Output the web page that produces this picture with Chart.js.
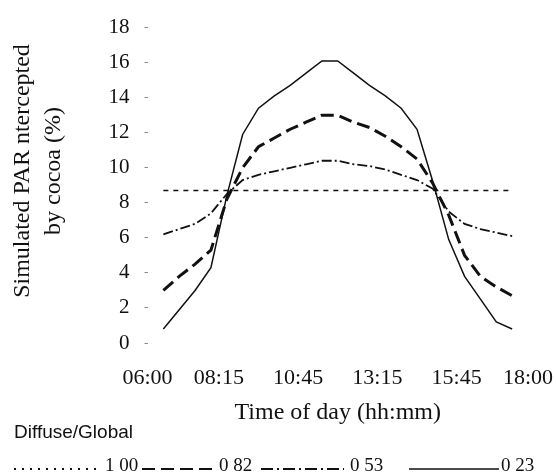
<!DOCTYPE html>
<html>
<head>
<meta charset="utf-8">
<script src="https://cdn.jsdelivr.net/npm/chart.js@4/dist/chart.umd.min.js"></script>
<style>
  html, body { margin: 0; padding: 0; background: #fff; }
  #wrap { width: 556px; height: 474px; position: relative; }
</style>
</head>
<body>
<div id="wrap"><canvas id="chart"></canvas></div>
<script>
// half-hourly simulation times (decimal hours)
const times = [6.5, 7, 7.5, 8, 8.5, 9, 9.5, 10, 10.5, 11, 11.5, 12, 12.5, 13, 13.5, 14, 14.5, 15, 15.5, 16, 16.5, 17, 17.5];

// intercepted PAR (%) for each diffuse/global ratio
const ratio100 = [8.7, 8.7, 8.7, 8.7, 8.7, 8.7, 8.7, 8.7, 8.7, 8.7, 8.7, 8.7, 8.7, 8.7, 8.7, 8.7, 8.7, 8.7, 8.7, 8.7, 8.7, 8.7, 8.7];
const ratio082 = [3.0, 3.8, 4.5, 5.3, 8.2, 10.0, 11.2, 11.7, 12.2, 12.6, 13.0, 13.0, 12.6, 12.3, 11.8, 11.2, 10.5, 9.1, 7.3, 5.0, 3.8, 3.2, 2.7];
const ratio053 = [6.2, 6.5, 6.8, 7.4, 8.5, 9.3, 9.6, 9.8, 10.0, 10.2, 10.4, 10.4, 10.2, 10.1, 9.9, 9.6, 9.3, 8.8, 7.5, 6.8, 6.5, 6.3, 6.1];
const ratio023 = [0.8, 1.9, 3.0, 4.3, 8.4, 11.9, 13.4, 14.1, 14.7, 15.4, 16.1, 16.1, 15.4, 14.7, 14.1, 13.4, 12.2, 9.2, 5.9, 3.8, 2.5, 1.2, 0.8];

const tickHours = [6, 8.25, 10.75, 13.25, 15.75, 18];
const tickLabels = ['06:00', '08:15', '10:45', '13:15', '15:45', '18:00'];
const seriesLabels = ['1 00', '0 82', '0 53', '0 23'];
const yTitle = ['Simulated PAR ntercepted', 'by cocoa (%)'];

const serif = '"Liberation Serif", "DejaVu Serif", serif';
const ink = '#111';

const toPoints = vals => times.map((t, i) => ({ x: t, y: vals[i] }));

const styles = [
  { width: 1.5, dash: [5, 5], legendDash: [2, 6], legendWidth: 2 },
  { width: 3, dash: [13, 6], legendDash: [13, 6], legendWidth: 2 },
  { width: 1.8, dash: [10, 3, 2, 3], legendDash: [12, 4, 2, 4], legendWidth: 2 },
  { width: 1.5, dash: [], legendDash: [], legendWidth: 1.6 }
];

// y title (two rotated lines), "Diffuse/Global" caption and the legend row
const extras = {
  id: 'extras',
  afterDraw(chart) {
    const ctx = chart.ctx;
    ctx.save();
    ctx.fillStyle = ink;
    ctx.strokeStyle = ink;

    ctx.save();
    ctx.font = '24px ' + serif;
    ctx.textAlign = 'center';
    ctx.textBaseline = 'middle';
    ctx.translate(0, 171);
    ctx.rotate(-Math.PI / 2);
    ctx.fillText(yTitle[0], 0, 23);
    ctx.fillText(yTitle[1], 0, 54);
    ctx.restore();

    ctx.font = '19px "Liberation Sans", sans-serif';
    ctx.textBaseline = 'middle';
    ctx.fillText('Diffuse/Global', 14, 433);

    const slots = [[14, 96, 105], [142, 217, 219], [261, 344, 350], [409, 499, 501]];
    ctx.font = '19px ' + serif;
    ctx.textBaseline = 'alphabetic';
    slots.forEach(([x0, x1, tx], i) => {
      const st = styles[i];
      ctx.lineWidth = st.legendWidth;
      ctx.setLineDash(st.legendDash);
      ctx.beginPath();
      ctx.moveTo(x0, 469);
      ctx.lineTo(x1, 469);
      ctx.stroke();
      ctx.setLineDash([]);
      ctx.fillText(seriesLabels[i], tx, 471);
    });
    ctx.restore();
  }
};

new Chart(document.getElementById('chart'), {
  type: 'line',
  data: {
    datasets: [ratio100, ratio082, ratio053, ratio023].map((vals, i) => ({
      label: seriesLabels[i],
      data: toPoints(vals),
      borderColor: ink,
      borderWidth: styles[i].width,
      borderDash: styles[i].dash,
      pointRadius: 0,
      tension: 0,
      fill: false
    }))
  },
  options: {
    responsive: true,
    maintainAspectRatio: false,
    animation: false,
    layout: { padding: { left: 0, right: 28, top: 25, bottom: 0 } },
    plugins: { legend: { display: false }, tooltip: { enabled: false } },
    scales: {
      x: {
        type: 'linear',
        min: 6,
        max: 18,
        afterBuildTicks: axis => { axis.ticks = tickHours.map(v => ({ value: v })); },
        afterFit: axis => { axis.height = 131; axis.paddingLeft = 0; axis.paddingRight = 0; },
        grid: { display: false, drawTicks: false },
        border: { display: false },
        ticks: {
          autoSkip: false,
          maxRotation: 0,
          padding: 22,
          color: ink,
          font: { family: serif, size: 22 },
          callback: (v, i) => tickLabels[i]
        },
        title: {
          display: true,
          text: 'Time of day (hh:mm)',
          color: ink,
          font: { family: serif, size: 24 },
          padding: { top: 0, bottom: 47 }
        }
      },
      y: {
        min: 0,
        max: 18,
        afterFit: axis => { axis.width = 147.5; },
        grid: { drawOnChartArea: false, drawTicks: true, tickLength: 3, color: '#888' },
        border: { display: false },
        ticks: {
          stepSize: 2,
          padding: 15,
          color: ink,
          font: { family: serif, size: 21 }
        }
      }
    }
  },
  plugins: [extras]
});
</script>
</body>
</html>
